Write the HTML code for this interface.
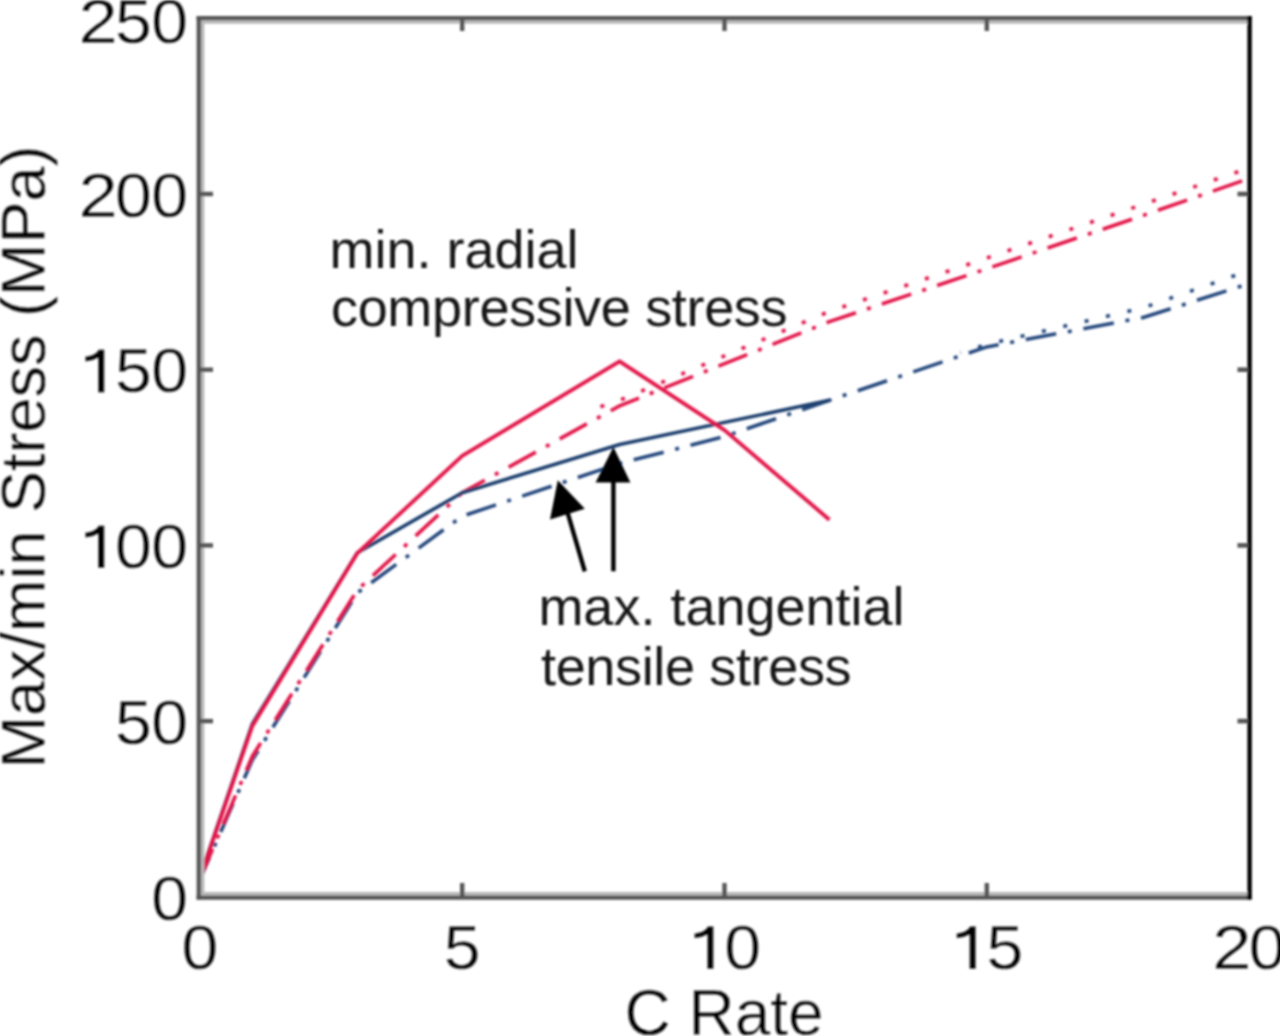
<!DOCTYPE html>
<html><head><meta charset="utf-8"><style>
html,body{margin:0;padding:0;background:#fff;}
svg{display:block;}
text{font-family:"Liberation Sans",sans-serif;}
.th text,.th path{stroke:#fff;stroke-width:0.3px;}
</style></head><body>
<svg width="1280" height="1036" viewBox="0 0 1280 1036">
<defs>
<filter id="b" x="-5%" y="-5%" width="110%" height="110%"><feGaussianBlur stdDeviation="1.1"/></filter>
<filter id="bt" x="-5%" y="-5%" width="110%" height="110%"><feGaussianBlur stdDeviation="0.85"/></filter>
</defs>
<rect width="1280" height="1036" fill="#fff"/>

<g filter="url(#b)"><polyline points="960.5,352.5 986.8,344.4 1144.1,307.5 1249.0,270.6" fill="none" stroke="#27487e" stroke-width="3.6" stroke-dasharray="4 17.94" stroke-dashoffset="-193.85"/>
<polyline points="200.0,879.2 252.4,759.8 357.4,592.8 462.2,516.2 619.6,463.5 724.5,436.5 829.4,400.3 986.8,346.9 1144.1,317.3 1249.0,283.6" fill="none" stroke="#27487e" stroke-width="3.6" stroke-dasharray="31 11.8 4 11.85" stroke-dashoffset="7.12"/>
<polyline points="598.6,407.3 619.6,400.3 829.4,311.4 986.8,258.0 1249.0,168.0" fill="none" stroke="#e3164a" stroke-width="3.6" stroke-dasharray="4 17.81" stroke-dashoffset="-590.84"/>
<polyline points="200.0,878.5 252.4,756.2 357.4,590.0 462.2,492.7 619.6,405.9 829.4,321.6 986.8,268.8 1144.1,215.1 1249.0,178.5" fill="none" stroke="#e3164a" stroke-width="3.6" stroke-dasharray="31 11.6 4 11.7" stroke-dashoffset="-1.02"/>
<polyline points="200.0,877.1 252.4,723.6 357.4,552.8 462.2,492.7 619.6,444.5 829.4,400.3" fill="none" stroke="#1f3f6e" stroke-width="3.6" stroke-linejoin="round"/>
<polyline points="200.0,877.8 252.4,726.0 357.4,553.1 462.2,455.8 619.6,361.3 724.5,430.1 829.4,519.7" fill="none" stroke="#e3164a" stroke-width="3.8" stroke-linejoin="round"/>
<line x1="613.4" y1="571.3" x2="613.4" y2="480" stroke="#000" stroke-width="4.4"/>
<polygon points="613.4,447 595.6,482.5 630.4,482.5" fill="#000"/>
<line x1="584.8" y1="571.3" x2="567.4" y2="512" stroke="#000" stroke-width="4.4"/>
<polygon points="557.8,480.2 550,519.6 584.8,508.8" fill="#000"/>
<line x1="202.6" y1="20" x2="202.6" y2="895" stroke="#b8b8b8" stroke-width="3.5"/>
<line x1="197" y1="21.9" x2="1248" y2="21.9" stroke="#b8b8b8" stroke-width="3.5"/>
<line x1="197" y1="893.8" x2="1248" y2="893.8" stroke="#b8b8b8" stroke-width="3.5"/>
<line x1="198.8" y1="16.1" x2="198.8" y2="899.6" stroke="#585858" stroke-width="4.4"/>
<line x1="196.6" y1="18.2" x2="1251.4" y2="18.2" stroke="#555" stroke-width="4.2"/>
<line x1="196.6" y1="897.6" x2="1251.4" y2="897.6" stroke="#555" stroke-width="4.2"/>
<line x1="1249.6" y1="16.1" x2="1249.6" y2="899.6" stroke="#000" stroke-width="4.4"/>
<line x1="462.2" y1="896" x2="462.2" y2="883" stroke="#555" stroke-width="4.4"/>
<line x1="462.2" y1="19" x2="462.2" y2="31" stroke="#555" stroke-width="4.4"/>
<line x1="724.5" y1="896" x2="724.5" y2="883" stroke="#555" stroke-width="4.4"/>
<line x1="724.5" y1="19" x2="724.5" y2="31" stroke="#555" stroke-width="4.4"/>
<line x1="986.8" y1="896" x2="986.8" y2="883" stroke="#555" stroke-width="4.4"/>
<line x1="986.8" y1="19" x2="986.8" y2="31" stroke="#555" stroke-width="4.4"/>
<line x1="200" y1="721.1" x2="213" y2="721.1" stroke="#555" stroke-width="4.4"/>
<line x1="1248" y1="721.1" x2="1237.5" y2="721.1" stroke="#555" stroke-width="4.6"/>
<line x1="200" y1="545.4" x2="213" y2="545.4" stroke="#555" stroke-width="4.4"/>
<line x1="1248" y1="545.4" x2="1237.5" y2="545.4" stroke="#555" stroke-width="4.6"/>
<line x1="200" y1="369.7" x2="213" y2="369.7" stroke="#555" stroke-width="4.4"/>
<line x1="1248" y1="369.7" x2="1237.5" y2="369.7" stroke="#555" stroke-width="4.6"/>
<line x1="200" y1="194.0" x2="213" y2="194.0" stroke="#555" stroke-width="4.4"/>
<line x1="1248" y1="194.0" x2="1237.5" y2="194.0" stroke="#555" stroke-width="4.6"/></g>
<g filter="url(#bt)"><g class="th">
<text transform="translate(169.6,919.5) scale(1.05,1)" font-size="63" text-anchor="middle">0</text>
<text transform="translate(133.4,743.8) scale(1.05,1)" font-size="63" text-anchor="middle">5</text>
<text transform="translate(169.6,743.8) scale(1.05,1)" font-size="63" text-anchor="middle">0</text>
<path d="M104.4 568.1 L104.4 525.4 L98.7 525.4 C96.2 529.9 91.2 531.9 85.2 532.4 L85.2 537.4 C91.2 536.9 95.2 535.4 98.0 533.9 L98.0 568.1Z" fill="#000"/>
<text transform="translate(133.4,568.1) scale(1.05,1)" font-size="63" text-anchor="middle">0</text>
<text transform="translate(169.6,568.1) scale(1.05,1)" font-size="63" text-anchor="middle">0</text>
<path d="M104.4 392.4 L104.4 349.6 L98.7 349.6 C96.2 354.1 91.2 356.1 85.2 356.6 L85.2 361.6 C91.2 361.1 95.2 359.6 98.0 358.1 L98.0 392.4Z" fill="#000"/>
<text transform="translate(133.4,392.4) scale(1.05,1)" font-size="63" text-anchor="middle">5</text>
<text transform="translate(169.6,392.4) scale(1.05,1)" font-size="63" text-anchor="middle">0</text>
<text transform="translate(98.2,216.8) scale(1.12,1)" font-size="63" text-anchor="middle">2</text>
<text transform="translate(133.4,216.8) scale(1.05,1)" font-size="63" text-anchor="middle">0</text>
<text transform="translate(169.6,216.8) scale(1.05,1)" font-size="63" text-anchor="middle">0</text>
<text transform="translate(98.2,42.8) scale(1.12,1)" font-size="63" text-anchor="middle">2</text>
<text transform="translate(133.4,42.8) scale(1.05,1)" font-size="63" text-anchor="middle">5</text>
<text transform="translate(169.6,42.8) scale(1.05,1)" font-size="63" text-anchor="middle">0</text>
<text transform="translate(200.0,969.0) scale(1.05,1)" font-size="63" text-anchor="middle">0</text>
<text transform="translate(462.2,969.0) scale(1.05,1)" font-size="63" text-anchor="middle">5</text>
<path d="M713.6 969.0 L713.6 926.2 L707.9 926.2 C705.4 930.7 700.4 932.7 694.4 933.2 L694.4 938.2 C700.4 937.7 704.4 936.2 707.2 934.7 L707.2 969.0Z" fill="#000"/>
<text transform="translate(742.6,969.0) scale(1.05,1)" font-size="63" text-anchor="middle">0</text>
<path d="M975.9 969.0 L975.9 926.2 L970.1 926.2 C967.6 930.7 962.6 932.7 956.6 933.2 L956.6 938.2 C962.6 937.7 966.6 936.2 969.4 934.7 L969.4 969.0Z" fill="#000"/>
<text transform="translate(1004.9,969.0) scale(1.05,1)" font-size="63" text-anchor="middle">5</text>
<text transform="translate(1231.9,969.0) scale(1.12,1)" font-size="63" text-anchor="middle">2</text>
<text transform="translate(1267.1,969.0) scale(1.05,1)" font-size="63" text-anchor="middle">0</text>
<text x="624.5" y="1035" font-size="64">C Rate</text>
<text transform="translate(44.8,768.5) rotate(-90)" font-size="63">Max/min Stress (MPa)</text>
</g><g fill="#151515">
<text x="329.5" y="268" font-size="54">min. radial</text>
<text x="331" y="325.7" font-size="54" letter-spacing="-0.33">compressive stress</text>
<text x="538.4" y="625.3" font-size="54">max. tangential</text>
<text x="541" y="685" font-size="54" letter-spacing="-0.35">tensile stress</text>
</g></g>
</svg></body></html>
